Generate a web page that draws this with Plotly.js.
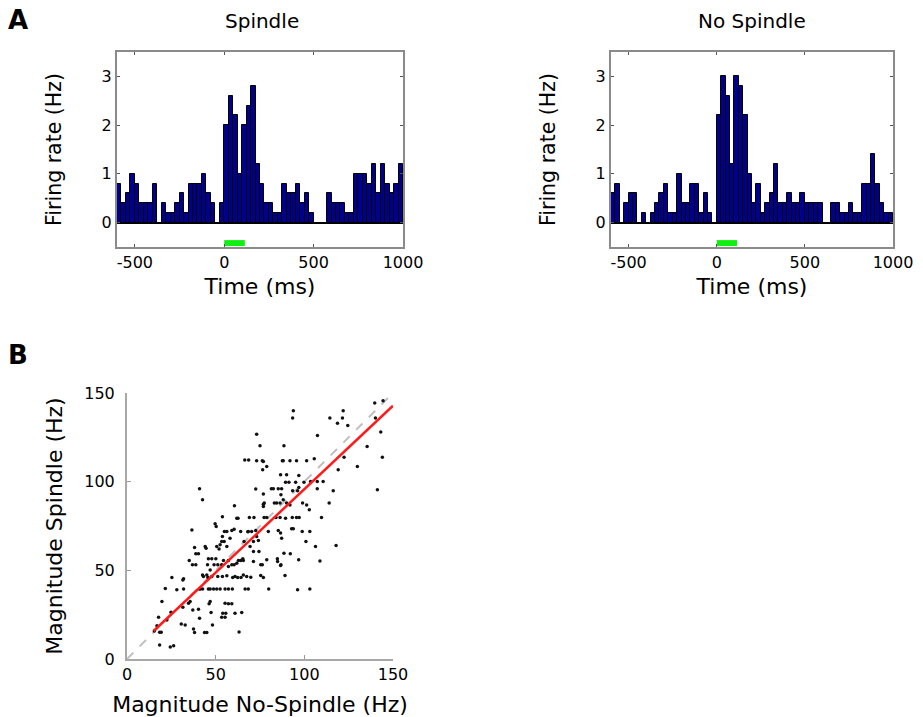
<!DOCTYPE html>
<html>
<head>
<meta charset="utf-8">
<script src="https://cdn.plot.ly/plotly-3.0.1.min.js"></script>
<style>html,body{margin:0;padding:0;background:#fff;}#chart{width:923px;height:717px;}</style>
</head>
<body>
<div id="chart"></div>
<script>
// ---- Panel A: peri-event firing rate histograms (25 ms bins, -600..1000 ms) ----
const binCenters = [
  -587.5,-562.5,-537.5,-512.5,-487.5,-462.5,-437.5,-412.5,-387.5,-362.5,
  -337.5,-312.5,-287.5,-262.5,-237.5,-212.5,-187.5,-162.5,-137.5,-112.5,
  -87.5,-62.5,-37.5,-12.5,12.5,37.5,62.5,87.5,112.5,137.5,
  162.5,187.5,212.5,237.5,262.5,287.5,312.5,337.5,362.5,387.5,
  412.5,437.5,462.5,487.5,512.5,537.5,562.5,587.5,612.5,637.5,
  662.5,687.5,712.5,737.5,762.5,787.5,812.5,837.5,862.5,887.5,
  912.5,937.5,962.5,987.5
];
const spindleRate = [
  0.8,0.4,0.6,1.0,0.8,0.4,0.4,0.4,0.8,0,
  0.4,0.2,0.2,0.4,0.6,0.2,0.8,0.8,0.8,1.0,
  0.6,0.4,0,0.4,2.0,2.6,2.2,1.0,2.0,2.4,
  2.8,1.2,0.8,0.4,0.4,0.2,0.2,0.8,0.6,0.6,
  0.8,0.4,0.6,0.2,0,0,0,0.6,0.4,0.4,
  0.4,0.2,0.2,1.0,1.0,1.0,0.8,1.2,0.6,1.2,
  0.8,0.6,0.8,1.2
];
const noSpindleRate = [
  0.6,0.8,0,0.4,0.6,0.6,0,0.2,0,0.2,
  0.4,0.6,0.8,0.2,0.2,1.0,0.4,0.4,0.8,0.8,
  0.2,0.6,0.2,0,2.2,3.0,2.6,1.2,3.0,2.8,
  2.2,1.0,0.4,0.8,0.2,0.4,0.6,1.2,0.4,0.4,
  0.6,0.4,0.4,0.6,0.4,0.4,0.4,0.4,0,0,
  0.4,0.4,0.2,0.2,0.4,0.2,0.2,0.8,0.8,1.4,
  0.8,0.4,0.2,0.2
];
const stimTimes = [0, 115];
const stimLevel = [-0.42, -0.42];
const timeTicks = [-500, 0, 500, 1000];
const timeTickText = ['-500', '0', '500', '1000'];
const rateTicks = [0, 1, 2, 3];

// ---- Panel B: magnitude scatter ----
const magNoSpindle = [
  139.7,144.4,93.8,93.4,114.4,121.9,121.5,118.7,124.5,140.1,
  143.1,107.4,73.1,75,88.5,135.4,144,129.9,122.4,119.1,
  105.6,66.4,68.6,73.1,76.3,76.9,78.8,76.5,88.1,91.9,
  87.6,95.6,101.3,86.6,90,96.9,89.4,91.3,95.1,99.8,
  103.5,110.6,107.3,116.3,107.3,141.2,40.9,42.6,81.4,82.5,
  85.3,87.2,72.6,76.9,86.8,93.4,96.9,96.2,83.1,84.4,
  86.3,90,88.1,77.4,76.9,91.9,99,101.3,102.8,114,
  76.9,60.6,78.8,77.3,84,86.3,89.4,93.2,95.6,97.1,
  109.7,71.6,69,61.9,62.6,53.8,49.7,50.3,36.6,54.9,
  56.3,59.1,60.4,64.1,68.4,70.3,72.6,68.1,79.7,85.3,
  86.6,92.8,93.8,103.1,98.8,100.9,87.2,58.1,53.8,66,
  73.1,71.3,74.1,69.4,53.4,54.8,56.3,50.6,51.9,52.5,
  38.1,38.8,40.3,44.1,44.6,106.3,117.9,71.3,74.4,88.5,
  92.1,84.8,35.1,36.9,38.8,45.9,47.8,50.1,54.4,57.2,
  62.8,64.1,65.6,65.3,71.3,78.8,84.9,86.8,96.8,108.8,
  45.4,46.9,49.1,51.2,53.4,57.2,60.4,61.9,59.1,75.4,
  76.3,86.6,25.3,31.5,31.9,43.1,45.6,42.6,45,47.8,
  51.2,53.8,56.3,59.6,60.9,62.4,64.3,65.6,67.5,69.8,
  75.4,76.9,89.1,21.6,28.1,31.9,40.9,41.3,42.6,45.9,
  46.9,48.8,50.6,52.5,55.3,57.2,59.4,66.6,68.4,79.9,
  96.2,103.1,19.7,35.6,34.7,46.9,46.3,55.3,57.2,59.1,
  31.5,24.8,37.1,40.3,47.4,54,53.4,55.3,55.7,60.9,
  64.7,40.9,17.8,22.5,30.6,32.8,48.2,37.5,16.9,15.4,
  18.4,19.3,38.1,43.7,45,63.2,18.4,24.4,26.3
];
const magSpindle = [
  144.3,145.7,140,135.9,135.9,140,135.9,132.9,131.7,135.9,
  128,126.1,126.8,120.3,120.3,119.9,113.7,108.6,113.7,106.7,
  112.9,112.2,112.2,111.8,111.8,111.4,108.6,106.7,111.8,111.8,
  111.8,111.8,111.8,103.9,103.9,103.5,99.7,99.7,99.7,99.7,
  100.1,100.1,100.1,94.9,96,95.4,96,89.8,96,96,
  96,96,95.8,93,92.6,94.9,96.7,94.9,87.9,87.9,
  87.9,87.9,89.8,87.9,86,86.9,87.9,86.9,84.1,87.9,
  87.3,86.4,79.8,79.8,79.8,79.8,79.4,79.8,79.8,79.8,
  79.8,79.8,79.8,79.4,79.4,80.2,76.2,74.7,72.8,71.9,
  71.9,72.5,73.2,71.9,71.9,71.9,72.5,71.7,71.9,72.5,
  71,73.4,73.4,71.9,71.9,66.2,68.1,68.1,69.1,66.2,
  69.1,66.2,66.8,63.4,66.2,66.2,63.4,63.4,62.1,64.4,
  62.9,59.3,59.3,63.4,62.5,63.4,64,60.6,60.6,59.7,
  59.3,56.5,55.5,53.1,53.1,56.5,56.5,56.5,55.5,55.5,
  55.5,55.5,55.5,56.5,55,55.9,55,53.1,55.9,55.3,
  53.1,50.2,53.1,53.1,53.1,52.1,53.1,54,53.1,53.1,
  53.1,52.7,45.9,44.6,45.2,46.5,45.9,47.4,47.4,46.5,
  46.5,46.5,46.9,45.9,46.5,45.9,45.9,47.4,46.5,46.1,
  47.1,45.9,47.1,39.7,39,39.5,39.5,39.5,39.5,39.5,
  39.5,39.5,39.5,39.5,39.5,39.5,39.5,39.5,39.5,39.5,
  39,39.5,32.4,32.4,31.4,32.4,31.1,31.4,31.1,31.1,
  29.2,26.3,27.7,28,26.2,25.8,23.5,23.5,25.8,25.8,
  26.2,23,23.5,22,19.8,19.2,19.2,16.9,18.8,15.8,
  15.1,15.1,14.9,14.9,14.9,15.2,7.9,6.8,7.5
];
const fitX = [15, 150];
const fitY = [15.8, 142.8];
const unityX = [0, 148];
const unityY = [0, 148];
const magTicks = [0, 50, 100, 150];

const W = 923, H = 717;
const px = v => v / W;
const py = v => 1 - v / H;

const FONT = 'DejaVu Sans, sans-serif';
const barColor = 'rgb(0,0,140)';
const frameColor = '#8a8a8a';

function histBar(rates, xa, ya) {
  return {
    type: 'bar', x: binCenters, y: rates, xaxis: xa, yaxis: ya,
    marker: {color: barColor, line: {color: '#000', width: 1}},
    width: 25, showlegend: false, hoverinfo: 'x+y'
  };
}
function stimTrace(xa, ya) {
  return {
    type: 'scatter', mode: 'lines', x: stimTimes, y: stimLevel, xaxis: xa, yaxis: ya,
    line: {color: '#11ee11', width: 6}, showlegend: false, hoverinfo: 'skip'
  };
}

const traces = [
  histBar(spindleRate, 'x', 'y'),
  stimTrace('x', 'y'),
  histBar(noSpindleRate, 'x2', 'y2'),
  stimTrace('x2', 'y2'),
  {type: 'scatter', mode: 'lines', x: unityX, y: unityY, xaxis: 'x3', yaxis: 'y3',
   line: {color: '#c0c0c0', width: 2, dash: 'dash'}, showlegend: false, hoverinfo: 'skip'},
  {type: 'scatter', mode: 'markers', x: magNoSpindle, y: magSpindle, xaxis: 'x3', yaxis: 'y3',
   marker: {color: '#111', size: 3.5}, showlegend: false},
  {type: 'scatter', mode: 'lines', x: fitX, y: fitY, xaxis: 'x3', yaxis: 'y3',
   line: {color: '#ff1a1a', width: 2.5}, showlegend: false, hoverinfo: 'skip'}
];

function histX(domain, anchor) {
  return {
    domain: domain, anchor: anchor, range: [-600, 1000],
    tickvals: timeTicks, ticktext: timeTickText,
    ticks: 'inside', ticklen: 3, tickcolor: '#555', tickwidth: 1,
    showline: true, linecolor: frameColor, linewidth: 2, mirror: 'ticks',
    showgrid: false, zeroline: false, automargin: false,
    tickfont: {family: FONT, size: 16, color: '#000'},
    title: {text: 'Time (ms)', font: {family: FONT, size: 22, color: '#000'}, standoff: 7}
  };
}
function histY(domain, anchor) {
  return {
    domain: domain, anchor: anchor, range: [-0.5, 3.5],
    tickvals: rateTicks,
    ticks: 'inside', ticklen: 3, tickcolor: '#555', tickwidth: 1,
    showline: true, linecolor: frameColor, linewidth: 2, mirror: 'ticks',
    showgrid: false, zeroline: true, zerolinecolor: '#000', zerolinewidth: 2,
    automargin: false,
    tickfont: {family: FONT, size: 16, color: '#000'},
    title: {text: 'Firing rate (Hz)', font: {family: FONT, size: 20.5, color: '#000'}, standoff: 34}
  };
}

const layout = {
  width: W, height: H,
  margin: {l: 0, r: 0, t: 0, b: 0},
  paper_bgcolor: '#fff', plot_bgcolor: '#fff',
  bargap: 0,
  font: {family: FONT, color: '#000'},
  xaxis: histX([px(117), px(403)], 'y'),
  yaxis: histY([py(247), py(52)], 'x'),
  xaxis2: histX([px(611), px(893)], 'y2'),
  yaxis2: histY([py(247), py(52)], 'x2'),
  xaxis3: {
    domain: [px(127), px(393)], anchor: 'y3', range: [0, 150],
    tickvals: magTicks, ticks: 'inside', ticklen: 4, tickcolor: '#999',
    showline: true, linecolor: '#a8a8a8', linewidth: 2,
    showgrid: false, zeroline: false, automargin: false,
    tickfont: {family: FONT, size: 16, color: '#000'},
    title: {text: 'Magnitude No-Spindle (Hz)', font: {family: FONT, size: 22, color: '#000'}, standoff: 15}
  },
  yaxis3: {
    domain: [py(659), py(393)], anchor: 'x3', range: [0, 150],
    tickvals: magTicks, ticks: 'inside', ticklen: 4, tickcolor: '#999',
    showline: true, linecolor: '#a8a8a8', linewidth: 2,
    showgrid: false, zeroline: false, automargin: false,
    ticklabelstandoff: 7,
    tickfont: {family: FONT, size: 16, color: '#000'},
    title: {text: 'Magnitude Spindle (Hz)', font: {family: FONT, size: 22, color: '#000'}, standoff: 16}
  },
  annotations: [
    {text: 'Spindle', x: px(262), y: py(21), xref: 'paper', yref: 'paper', showarrow: false,
     xanchor: 'center', yanchor: 'middle', font: {family: FONT, size: 20, color: '#000'}},
    {text: 'No Spindle', x: px(752), y: py(21), xref: 'paper', yref: 'paper', showarrow: false,
     xanchor: 'center', yanchor: 'middle', font: {family: FONT, size: 20, color: '#000'}},
    {text: '<b>A</b>', x: px(18), y: py(20), xref: 'paper', yref: 'paper', showarrow: false,
     xanchor: 'center', yanchor: 'middle', font: {family: FONT, size: 26, color: '#000'}},
    {text: '<b>B</b>', x: px(18), y: py(355), xref: 'paper', yref: 'paper', showarrow: false,
     xanchor: 'center', yanchor: 'middle', font: {family: FONT, size: 26, color: '#000'}}
  ]
};

Plotly.newPlot('chart', traces, layout, {displayModeBar: false});
</script>
</body>
</html>
